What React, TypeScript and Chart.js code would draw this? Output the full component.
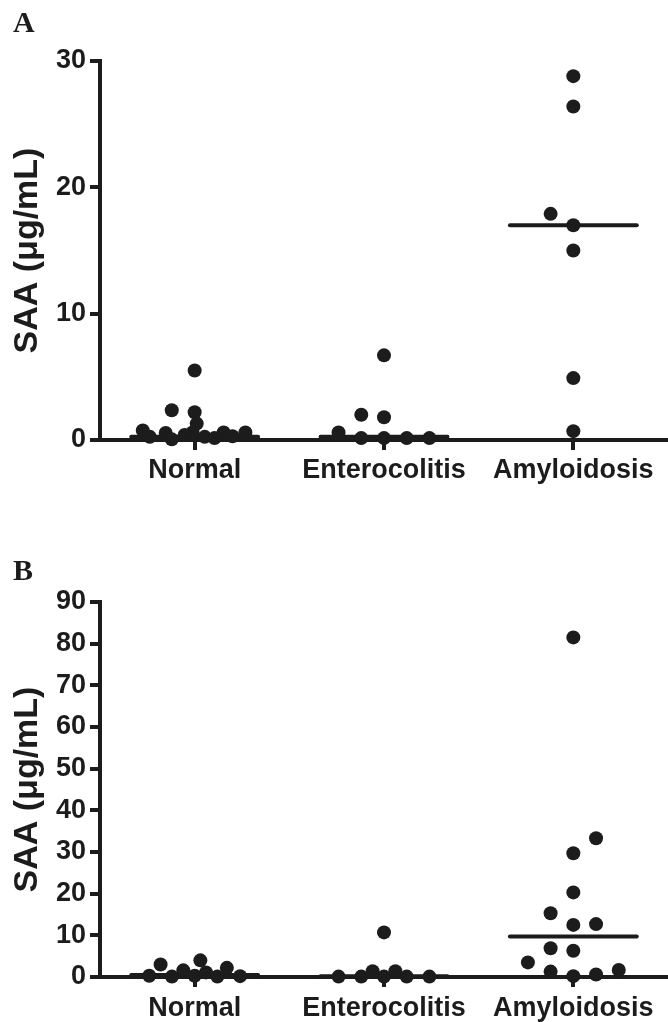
import React, { useEffect, useRef } from 'react';
import { Chart, registerables } from 'chart.js';

Chart.register(...registerables);

// ---------- data ----------
const categories = ['Normal', 'Enterocolitis', 'Amyloidosis'];
const yTicksA = [0, 10, 20, 30];
const yTicksB = [0, 10, 20, 30, 40, 50, 60, 70, 80, 90];
const yTitle = 'SAA (μg/mL)';

// Panel A
const normalA = [0.75, 0.25, 0.55, 2.35, 0.05, 0.4, 5.5, 2.2, 1.3, 0.6, 0.25, 0.15, 0.6, 0.3, 0.6];
const normalAJitter = [-0.274, -0.237, -0.153, -0.121, -0.121, -0.053, 0, 0, 0.011, -0.011, 0.053, 0.105, 0.153, 0.2, 0.268];
const enteroA = [0.6, 0.15, 2.0, 0.15, 6.7, 1.8, 0.15, 0.15];
const enteroAJitter = [-0.24, -0.12, -0.12, 0, 0, 0, 0.12, 0.24];
const amyloidA = [28.8, 26.4, 17.9, 17.0, 15.0, 4.9, 0.7];
const amyloidAJitter = [0, 0, -0.12, 0, 0, 0, 0];
const mediansA = [0.25, 0.25, 17.0];

// Panel B
const normalB = [0.3, 3.0, 0.1, 1.6, 0.3, 4.0, 1.1, 0.1, 2.2, 0.2];
const normalBJitter = [-0.24, -0.18, -0.12, -0.06, 0, 0.03, 0.06, 0.12, 0.17, 0.24];
const enteroB = [0.1, 0.1, 1.4, 10.7, 0.1, 1.4, 0.1, 0.1];
const enteroBJitter = [-0.24, -0.12, -0.06, 0, 0, 0.06, 0.12, 0.24];
const amyloidB = [81.5, 33.3, 29.7, 20.3, 15.3, 12.5, 12.7, 6.9, 6.3, 3.5, 1.3, 0.2, 0.6, 1.7];
const amyloidBJitter = [0, 0.12, 0, 0, -0.12, 0, 0.12, -0.12, 0, -0.24, -0.12, 0, 0.12, 0.24];
const mediansB = [0.5, 0.2, 9.7];

// ---------- styling ----------
const INK = '#1c1c1c';
const SANS = '"Liberation Sans", Arial, Helvetica, sans-serif';
const MEDIAN_HALF = 0.335;

type Group = { values: number[]; jitter: number[] };

function buildConfig(groups: Group[], medians: number[], yTicks: number[], padTop: number, xHeight: number, xPad: number): any {
  const datasets: any[] = [];
  groups.forEach((g, i) => {
    datasets.push({
      data: g.values.map((v, j) => ({ x: i + 1 + g.jitter[j], y: v })),
      pointRadius: 7,
      pointHoverRadius: 7,
      pointBackgroundColor: INK,
      pointBorderWidth: 0,
      backgroundColor: INK,
      borderWidth: 0,
      showLine: false,
      clip: false,
    });
  });
  medians.forEach((m, i) => {
    datasets.push({
      data: [
        { x: i + 1 - MEDIAN_HALF, y: m },
        { x: i + 1 + MEDIAN_HALF, y: m },
      ],
      showLine: true,
      borderColor: INK,
      borderWidth: 4,
      borderCapStyle: 'round',
      pointRadius: 0,
      pointHoverRadius: 0,
      clip: false,
    });
  });
  const yMax = yTicks[yTicks.length - 1];
  return {
    type: 'scatter',
    data: { datasets },
    options: {
      responsive: false,
      animation: false,
      events: [],
      layout: { autoPadding: false, padding: { top: padTop, left: 0, right: 0, bottom: 0 } },
      plugins: { legend: { display: false }, tooltip: { enabled: false }, title: { display: false } },
      scales: {
        x: {
          type: 'linear',
          min: 0.5,
          max: 3.5,
          afterBuildTicks: (s: any) => {
            s.ticks = categories.map((_, i) => ({ value: i + 1 }));
          },
          afterFit: (s: any) => {
            s.height = xHeight;
            s.paddingLeft = 0;
            s.paddingRight = 0;
          },
          ticks: {
            callback: (v: any) => categories[Math.round(Number(v)) - 1] ?? '',
            font: { family: SANS, size: 27, weight: 'bold' },
            color: INK,
            padding: xPad,
            autoSkip: false,
            maxRotation: 0,
          },
          grid: { drawOnChartArea: false, drawTicks: true, tickLength: 10, lineWidth: 4, color: INK },
          border: { display: true, width: 4, color: INK },
        },
        y: {
          type: 'linear',
          min: 0,
          max: yMax,
          afterBuildTicks: (s: any) => {
            s.ticks = yTicks.map((v) => ({ value: v }));
          },
          afterFit: (s: any) => {
            s.width = 100;
            s.paddingTop = 0;
            s.paddingBottom = 0;
          },
          ticks: {
            font: { family: SANS, size: 27, weight: 'bold' },
            color: INK,
            padding: 4,
          },
          grid: { drawOnChartArea: false, drawTicks: true, tickLength: 10, lineWidth: 4, color: INK },
          border: { display: true, width: 4, color: INK },
          title: {
            display: true,
            text: yTitle,
            font: { family: SANS, size: 34, weight: 'bold' },
            color: INK,
            padding: { top: 7, bottom: 0 },
          },
        },
      },
    },
  };
}

function Panel({ top, height, groups, medians, yTicks, padTop, xHeight, xPad }: any) {
  const ref = useRef<HTMLCanvasElement | null>(null);
  useEffect(() => {
    if (!ref.current) return;
    const chart = new Chart(ref.current, buildConfig(groups, medians, yTicks, padTop, xHeight, xPad));
    return () => chart.destroy();
  }, []);
  return (
    <canvas
      ref={ref}
      width={668}
      height={height}
      style={{ position: 'absolute', left: 0, top, width: 668, height }}
    />
  );
}

export default function App() {
  useEffect(() => {
    document.body.style.margin = '0';
    document.body.style.background = '#ffffff';
  }, []);
  const letterStyle: React.CSSProperties = {
    position: 'absolute',
    left: 13,
    fontFamily: '"Liberation Serif", "Times New Roman", serif',
    fontWeight: 'bold',
    fontSize: 30,
    lineHeight: '30px',
    color: INK,
  };
  return (
    <div style={{ position: 'absolute', left: 0, top: 0, width: 668, height: 1022, background: '#fff', overflow: 'hidden' }}>
      <Panel
        top={0}
        height={520}
        groups={[
          { values: normalA, jitter: normalAJitter },
          { values: enteroA, jitter: enteroAJitter },
          { values: amyloidA, jitter: amyloidAJitter },
        ]}
        medians={mediansA}
        yTicks={yTicksA}
        padTop={61}
        xHeight={80}
        xPad={4}
      />
      <Panel
        top={520}
        height={502}
        groups={[
          { values: normalB, jitter: normalBJitter },
          { values: enteroB, jitter: enteroBJitter },
          { values: amyloidB, jitter: amyloidBJitter },
        ]}
        medians={mediansB}
        yTicks={yTicksB}
        padTop={82}
        xHeight={45}
        xPad={5}
      />
      <div style={{ ...letterStyle, top: 7 }}>A</div>
      <div style={{ ...letterStyle, top: 555 }}>B</div>
    </div>
  );
}
